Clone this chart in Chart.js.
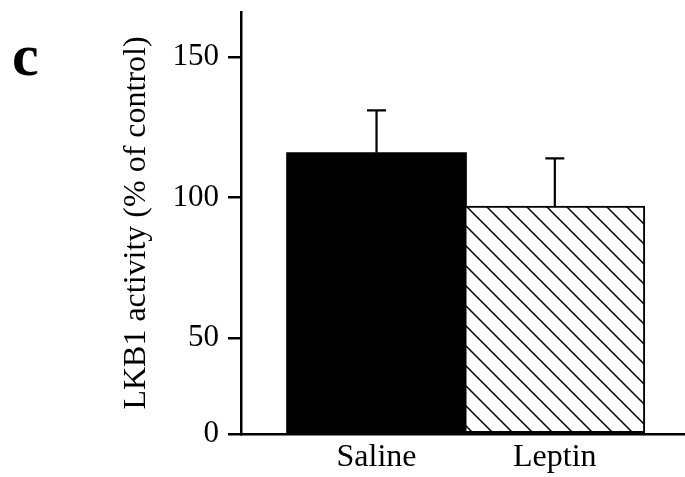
<!DOCTYPE html>
<html lang="en">

<head>
  <meta charset="UTF-8">
  <title>LKB1 activity</title>
  <script src="https://cdn.jsdelivr.net/npm/chart.js@4.4.1/dist/chart.umd.min.js"></script>
  <style>
    html, body {
      margin: 0;
      padding: 0;
      background: #fff;
    }

    .wrap {
      width: 685px;
      height: 477px;
      position: relative;
    }
  </style>
</head>

<body>
  <div class="wrap">
    <canvas id="chart"></canvas>
  </div>

  <script>
    // data (% of control)
    const groups = ['Saline', 'Leptin'];
    const activity = [116, 97];
    const sem = [15, 17];

    // the y axis is broken: its bottom (~16) is labelled 0
    const yTickValues = [16, 50, 100, 150];
    const yTickLabels = ['0', '50', '100', '150'];
    const yMin = 16;
    const yMax = 166;

    const serif = '"Liberation Serif", "Times New Roman", serif';

    // hatch pattern for the leptin bar
    function makeHatch() {
      const c = document.createElement('canvas');
      c.width = 20;
      c.height = 20;
      const g = c.getContext('2d');
      g.fillStyle = '#fff';
      g.fillRect(0, 0, 20, 20);
      g.strokeStyle = '#000';
      g.lineWidth = 1.5;
      g.beginPath();
      g.moveTo(-2, -2); g.lineTo(22, 22);
      g.moveTo(-12, 8); g.lineTo(2, 22);
      g.moveTo(18, -2); g.lineTo(22, 2);
      g.stroke();
      return g.createPattern(c, 'repeat');
    }

    // error bars (upper half only) + panel letter
    const extras = {
      id: 'extras',
      afterDatasetsDraw(chart) {
        const { ctx, scales } = chart;
        ctx.save();
        ctx.strokeStyle = '#000';
        ctx.lineWidth = 2.2;
        groups.forEach((g, i) => {
          const x = scales.x.getPixelForValue(i);
          const top = scales.y.getPixelForValue(activity[i] + sem[i]);
          const base = scales.y.getPixelForValue(activity[i]);
          ctx.beginPath();
          ctx.moveTo(x, base);
          ctx.lineTo(x, top);
          ctx.moveTo(x - 9.5, top);
          ctx.lineTo(x + 9.5, top);
          ctx.stroke();
        });
        ctx.restore();
      },
      afterDraw(chart) {
        const ctx = chart.ctx;
        ctx.save();
        ctx.fillStyle = '#000';
        ctx.font = 'bold 60px ' + serif;
        ctx.textBaseline = 'alphabetic';
        ctx.fillText('c', 12, 75);
        ctx.restore();
      }
    };

    const ctx = document.getElementById('chart');

    new Chart(ctx, {
      type: 'bar',
      data: {
        datasets: [{
          data: groups.map((g, i) => ({ x: i, y: activity[i] })),
          base: yMin,
          backgroundColor: ['#000', makeHatch()],
          borderColor: '#000',
          borderWidth: [0, 2],
          borderSkipped: false,
          barThickness: 180,
        }]
      },
      options: {
        responsive: true,
        maintainAspectRatio: false,
        animation: false,
        events: [],
        layout: { padding: { top: 12, left: 0, right: 0, bottom: 0 } },
        plugins: {
          legend: { display: false },
          tooltip: { enabled: false }
        },
        scales: {
          x: {
            type: 'linear',
            offset: false,
            min: -0.76,
            max: 1.73,
            afterBuildTicks: (scale) => {
              scale.ticks = groups.map((g, i) => ({ value: i }));
            },
            afterFit: (scale) => {
              scale.height = 43;
              scale.paddingLeft = 0;
              scale.paddingRight = 0;
            },
            border: { display: true, color: '#000', width: 2.5 },
            grid: { display: false, drawTicks: false },
            ticks: {
              color: '#000',
              padding: 4,
              font: { family: serif, size: 32 },
              callback: (v) => groups[v]
            }
          },
          y: {
            min: yMin,
            max: yMax,
            afterBuildTicks: (scale) => {
              scale.ticks = yTickValues.map(v => ({ value: v }));
            },
            afterFit: (scale) => {
              scale.width = 241;
              scale.paddingTop = 0;
              scale.paddingBottom = 0;
            },
            border: { display: true, color: '#000', width: 2.5 },
            grid: {
              drawOnChartArea: false,
              drawTicks: true,
              tickLength: 13,
              tickColor: '#000',
              lineWidth: 2.5
            },
            ticks: {
              color: '#000',
              padding: 9,
              font: { family: serif, size: 31 },
              callback: (v) => yTickLabels[yTickValues.indexOf(v)]
            },
            title: {
              display: true,
              text: 'LKB1 activity (% of control)',
              color: '#000',
              font: { family: serif, size: 32 },
              padding: { top: 117, bottom: 0 }
            }
          }
        }
      },
      plugins: [extras]
    });
  </script>
</body>

</html>
